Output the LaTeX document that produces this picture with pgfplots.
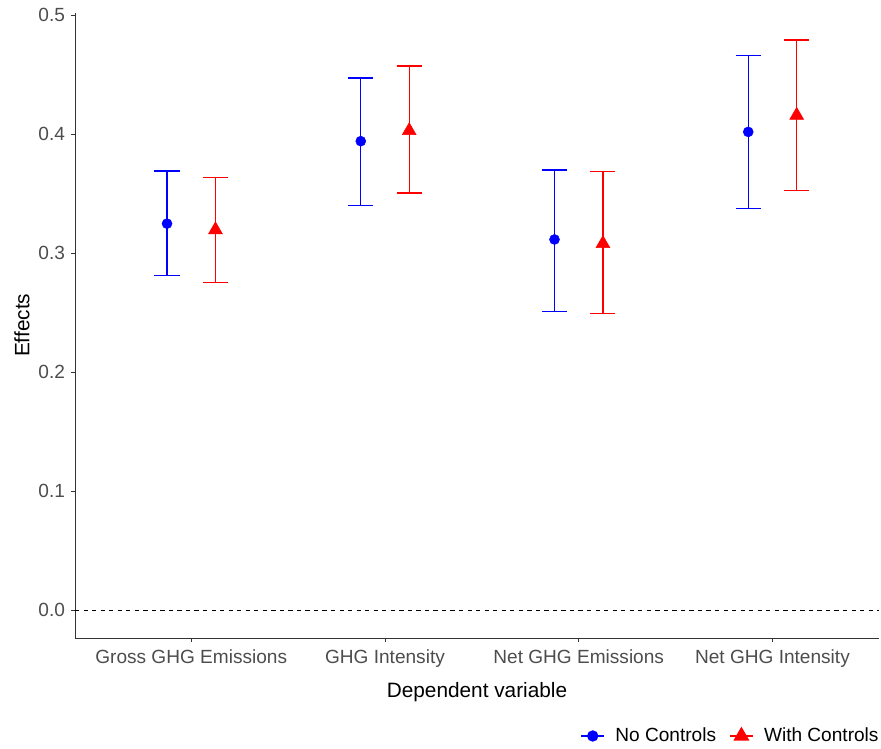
\documentclass[border=0pt]{standalone}
\usepackage{pgfplots}
\pgfplotsset{compat=1.18}
\usepackage{fontspec}
\setmainfont{Liberation Sans}
\definecolor{tickgray}{HTML}{4D4D4D}
\definecolor{linegray}{HTML}{333333}
\begin{document}
\begin{tikzpicture}
\path[use as bounding box] (0,0) rectangle (660.75pt,561.75pt);
\begin{axis}[
  at={(56.25pt,83.25pt)}, anchor=south west,
  scale only axis, width=603pt, height=469pt,
  xmin=0.4, xmax=4.55, ymin=-0.0235, ymax=0.502,
  axis x line*=bottom, axis y line*=left,
  axis line style={-, linegray, line width=0.7pt},
  tick align=outside, major tick length=3pt,
  tick style={linegray, line width=0.6pt},
  xtick={1,2,3,4},
  xticklabels={Gross GHG Emissions, GHG Intensity, Net GHG Emissions, Net GHG Intensity},
  ytick={0,0.1,0.2,0.3,0.4,0.5},
  /pgf/number format/assume math mode=true,
  /pgf/number format/fixed, /pgf/number format/fixed zerofill, /pgf/number format/precision=1,
  ticklabel style={font=\fontsize{14.3}{17}\selectfont, text=tickgray},
  xticklabel style={yshift=-2pt},
  yticklabel style={xshift=-1pt},
  xlabel={Dependent variable}, ylabel={Effects},
  label style={font=\fontsize{15.6}{18}\selectfont},
  xlabel style={at={(axis description cs:0.5,-0.0864)}, anchor=center},
  ylabel style={at={(axis description cs:-0.066,0.5)}, anchor=center},
  legend columns=2,
  legend style={at={(1.003,-0.1567)}, anchor=east, draw=none, fill=none,
    inner sep=0pt, font=\fontsize{14.3}{17}\selectfont,
    /tikz/every even column/.append style={column sep=8pt}},
  legend cell align=left,
  legend image code/.code={\draw[mark repeat=2,mark phase=2,#1] plot coordinates {(0pt,0pt)(8.5pt,0pt)(17pt,0pt)};},
]
\addplot[black, line width=0.6pt, dash pattern=on 3.2pt off 3.2pt, forget plot] coordinates {(0.4,0) (4.55,0)};

\addplot[only marks, blue, mark=*, mark size=3.75pt, forget plot,
  error bars/.cd, y dir=both, y explicit,
  error bar style={line width=1pt, blue},
  error mark options={rotate=90, mark size=9.4pt, line width=1pt, blue}]
  table[x=x, y=y, y error plus=ep, y error minus=em] {
x y ep em
0.875 0.3247 0.0443 0.0437
1.875 0.3940 0.0532 0.0542
2.875 0.3114 0.0584 0.0603
3.875 0.4018 0.0642 0.0643
};

\addplot[only marks, red, mark=triangle*, mark size=6pt, forget plot,
  error bars/.cd, y dir=both, y explicit,
  error bar style={line width=1pt, red},
  error mark options={rotate=90, mark size=9.4pt, line width=1pt, red}]
  table[x=x, y=y, y error plus=ep, y error minus=em] {
x y ep em
1.125 0.3195 0.0441 0.0440
2.125 0.4028 0.0545 0.0524
3.125 0.3079 0.0608 0.0587
4.125 0.4157 0.0633 0.0630
};

\addlegendimage{blue, line width=1pt, mark=*, mark size=3.75pt}
\addlegendentry{\hspace{6pt}No Controls}
\addlegendimage{red, line width=1pt, mark=triangle*, mark size=6pt}
\addlegendentry{\hspace{6pt}With Controls}
\end{axis}
\end{tikzpicture}
\end{document}
